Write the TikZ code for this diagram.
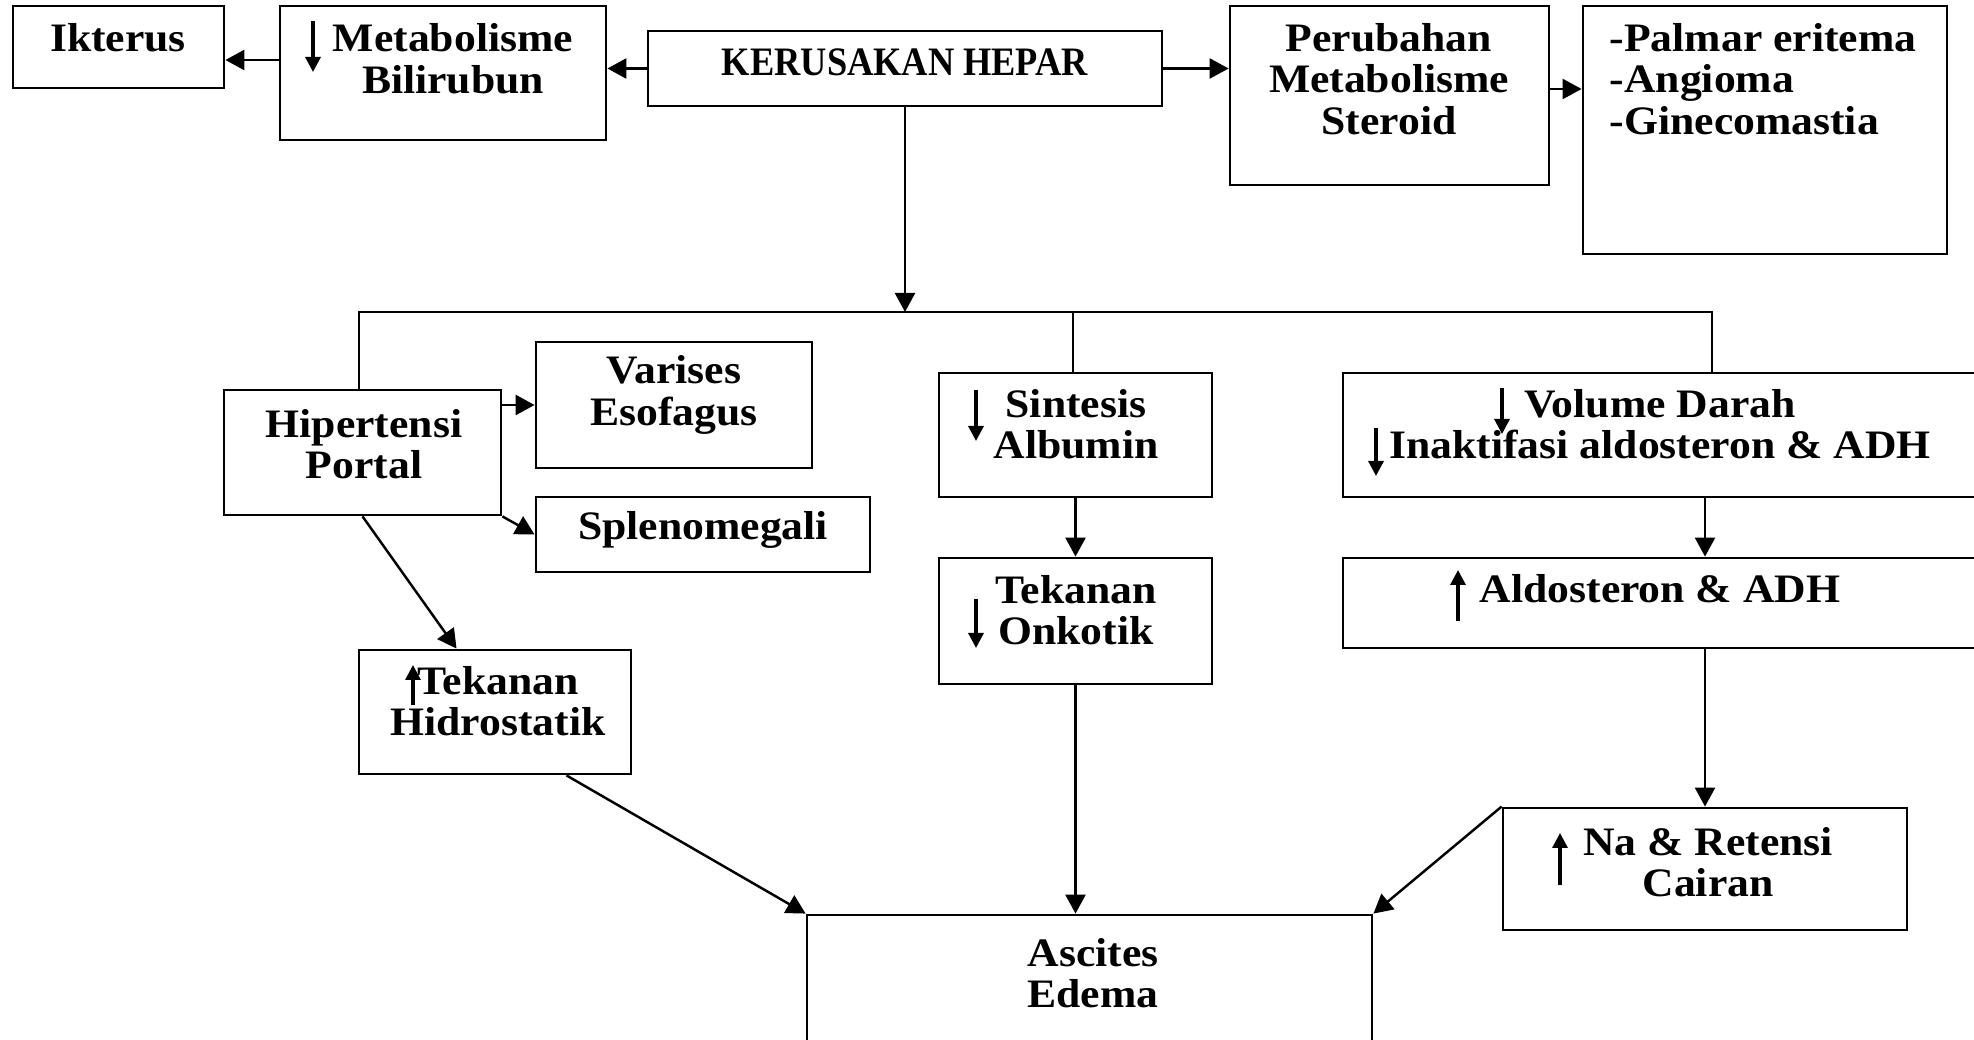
\documentclass[tikz,border=0pt]{standalone}
\usepackage{fontspec}
\setmainfont{Liberation Serif}[FakeStretch=1.08]
\newfontfamily\capfont{Liberation Serif}[FakeStretch=0.9]
\usetikzlibrary{arrows.meta,calc}

\tikzset{
  box/.style={draw, line width=0.8pt, inner sep=0pt},
  txt/.style={align=center, inner sep=0pt, font=\fontsize{11.5}{11.8}\selectfont\bfseries},
  arr/.style={line width=0.7pt, -{Triangle[length=1.9mm,width=2mm]}},
  tanda/.style={line width=0.9pt, -{Triangle[length=1.5mm,width=1.5mm]}},
}

\begin{document}
\begin{tikzpicture}
    \useasboundingbox (0,0) rectangle (19.74,-10.40);
    \clip (0,0) rectangle (19.74,-10.40);

    % 上段の箱
    \node[box, minimum width=2.11cm, minimum height=0.82cm] (ikt) at (1.185,-0.47) {};
    \node[txt] (ikt-t) at (1.18,-0.38) {Ikterus};

    \node[box, minimum width=3.26cm, minimum height=1.34cm] (bil) at (4.43,-0.73) {};
    \node[txt] (bil-t) at (4.53,-0.585) {Metabolisme\\Bilirubun};

    \node[box, minimum width=5.14cm, minimum height=0.75cm] (hep) at (9.05,-0.685) {};
    \node[txt, font=\fontsize{11.5}{11.8}\capfont\bfseries] (hep-t) at (9.05,-0.62) {KERUSAKAN HEPAR};

    \node[box, minimum width=3.19cm, minimum height=1.79cm] (per) at (13.895,-0.955) {};
    \node[txt] (per-t) at (13.89,-0.79) {Perubahan\\Metabolisme\\Steroid};

    \node[box, minimum width=3.64cm, minimum height=2.48cm] (pal) at (17.65,-1.30) {};
    \node[txt, align=left, anchor=west] (pal-t) at (16.09,-0.79) {-Palmar eritema\\-Angioma\\-Ginecomastia};

    % 中段の箱
    \node[box, minimum width=2.77cm, minimum height=1.25cm] (hip) at (3.625,-4.525) {};
    \node[txt] (hip-t) at (3.64,-4.44) {Hipertensi\\Portal};

    \node[box, minimum width=2.76cm, minimum height=1.26cm] (var) at (6.74,-4.05) {};
    \node[txt] (var-t) at (6.74,-3.95) {Varises\\Esofagus};

    \node[box, minimum width=3.34cm, minimum height=0.75cm] (spl) at (7.03,-5.345) {};
    \node[txt] (spl-t) at (7.03,-5.30) {Splenomegali};

    \node[box, minimum width=2.72cm, minimum height=1.24cm] (hid) at (4.95,-7.12) {};
    \node[txt] (hid-t) at (4.98,-7.01) {Tekanan\\Hidrostatik};

    \node[box, minimum width=2.73cm, minimum height=1.24cm] (sin) at (10.755,-4.35) {};
    \node[txt] (sin-t) at (10.76,-4.24) {Sintesis\\Albumin};

    \node[box, minimum width=2.73cm, minimum height=1.26cm] (onk) at (10.755,-6.21) {};
    \node[txt] (onk-t) at (10.76,-6.10) {Tekanan\\Onkotik};

    \node[box, minimum width=6.67cm, minimum height=1.24cm] (vol) at (16.765,-4.35) {};
    \node[txt] (vol-t) at (16.60,-4.24) {Volume Darah\\Inaktifasi aldosteron \& ADH};

    \node[box, minimum width=6.67cm, minimum height=0.90cm] (ald) at (16.765,-6.03) {};
    \node[txt] (ald-t) at (16.60,-5.89) {Aldosteron \& ADH};

    % 下段の箱
    \node[box, minimum width=4.04cm, minimum height=1.22cm] (na) at (17.05,-8.69) {};
    \node[txt] (na-t) at (17.08,-8.62) {Na \& Retensi\\Cairan};

    \node[box, minimum width=5.65cm, minimum height=1.85cm] (asc) at (10.895,-10.075) {};
    \node[txt] (asc-t) at (10.93,-9.73) {Ascites\\Edema};

    % 箱の中の矢印
    \draw[tanda] (3.13,-0.21) -- (3.13,-0.72);
    \draw[tanda] (9.76,-3.90) -- (9.76,-4.41);
    \draw[tanda] (9.76,-5.99) -- (9.76,-6.48);
    \draw[tanda] (4.13,-7.05) -- (4.13,-6.65);
    \draw[tanda] (15.02,-3.88) -- (15.02,-4.34);
    \draw[tanda] (13.76,-4.28) -- (13.76,-4.76);
    \draw[tanda] (14.58,-6.21) -- (14.58,-5.70);
    \draw[tanda] (15.60,-8.85) -- (15.60,-8.33);

    % 上段の矢印
    \draw[arr] (hep.west) -- (hep.west -| bil.east);
    \draw[arr] ([yshift=-0.13cm]ikt.east -| bil.west) -- ([yshift=-0.13cm]ikt.east);
    \draw[arr] (hep.east) -- (hep.east -| per.west);
    \draw[arr] ([yshift=0.065cm]per.east) -- ([yshift=0.065cm]per.east -| pal.west);

    % 分岐線
    \coordinate (bus) at (9.05,-3.12);
    \coordinate (busL) at (3.59,-3.12);
    \coordinate (busM) at (10.73,-3.12);
    \coordinate (busR) at (17.12,-3.12);
    \draw[arr] (hep.south) -- (bus);
    \draw[line width=0.7pt] (hip.north -| busL) -- (busL) -- (busR) -- (busR |- vol.north);
    \draw[line width=0.7pt] (busM) -- (busM |- sin.north);

    % 中段と下段の矢印
    \draw[arr] (var.west -| hip.east) -- (var.west);
    \draw[arr] (hip.south east) -- (spl.west);
    \draw[arr] (hip.south) -- ($(hid.north west)!0.36!(hid.north east)$);
    \draw[arr] ($(hid.south west)!0.76!(hid.south east)$) -- (asc.north west);
    \draw[arr] (sin.south) -- (onk.north);
    \draw[arr] (onk.south) -- (onk.south |- asc.north);
    \draw[arr] (vol.south -| na.north) -- (ald.north -| na.north);
    \draw[arr] (ald.south -| na.north) -- (na.north);
    \draw[arr] (na.north west) -- (asc.north east);
  \end{tikzpicture}
\end{document}
